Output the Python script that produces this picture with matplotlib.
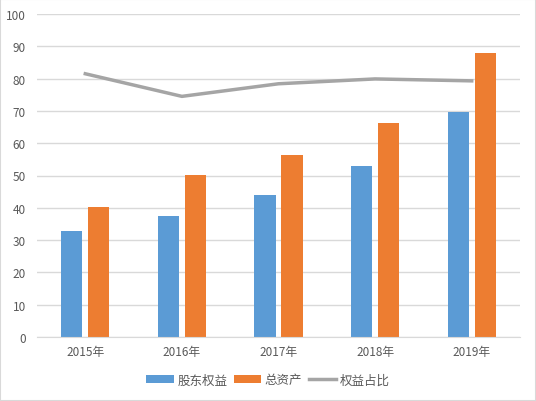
import matplotlib
matplotlib.use("Agg")
import matplotlib.pyplot as plt
from matplotlib.patches import Rectangle
import numpy as np

plt.rcParams['font.family'] = ['Noto Sans CJK SC', 'DejaVu Sans']

years = ['2015年', '2016年', '2017年', '2018年', '2019年']
equity = [32.8, 37.5, 44.0, 52.9, 69.7]
assets = [40.2, 50.2, 56.3, 66.3, 87.9]
ratio = [81.5, 74.5, 78.4, 79.9, 79.3]

blue = '#5B9BD5'
orange = '#ED7D31'
gray = '#A5A5A5'
txt = '#595959'

fig = plt.figure(figsize=(5.36, 4.02), dpi=100)
ax = fig.add_axes([37 / 536, 1 - 338 / 402, (520 - 37) / 536, (338 - 15) / 402])

x = np.arange(len(years))
w = 0.22
b1 = ax.bar(x - 0.14, equity, w, color=blue, label='股东权益', zorder=2)
b2 = ax.bar(x + 0.14, assets, w, color=orange, label='总资产', zorder=2)
l1, = ax.plot(x, ratio, color=gray, lw=2.5, label='权益占比', zorder=3)

ax.set_xlim(-0.5, len(years) - 0.5)
ax.set_ylim(0, 100)
ax.set_yticks(range(0, 101, 10))
ax.set_xticks(x)
ax.set_xticklabels(years)
ax.grid(axis='y', color='#D9D9D9', lw=1, zorder=0)
for s in ['top', 'right', 'left']:
    ax.spines[s].set_visible(False)
ax.spines['bottom'].set_color('#D9D9D9')
ax.tick_params(axis='both', length=0, colors=txt, labelsize=8.5)
ax.tick_params(axis='x', pad=6)
ax.tick_params(axis='y', pad=8)

leg = fig.legend([b1, b2, l1], ['股东权益', '总资产', '权益占比'], loc='center',
                 bbox_to_anchor=(0.5, 1 - 381 / 402), ncol=3, frameon=False,
                 fontsize=9, handlelength=2.2, handleheight=0.6, columnspacing=0.5, handletextpad=0.3)
for t in leg.get_texts():
    t.set_color(txt)

fig.patches.append(Rectangle((0, 0), 1, 1, transform=fig.transFigure, fill=False,
                             edgecolor='#D9D9D9', lw=1.5))

fig.savefig('out.png', dpi=100)
